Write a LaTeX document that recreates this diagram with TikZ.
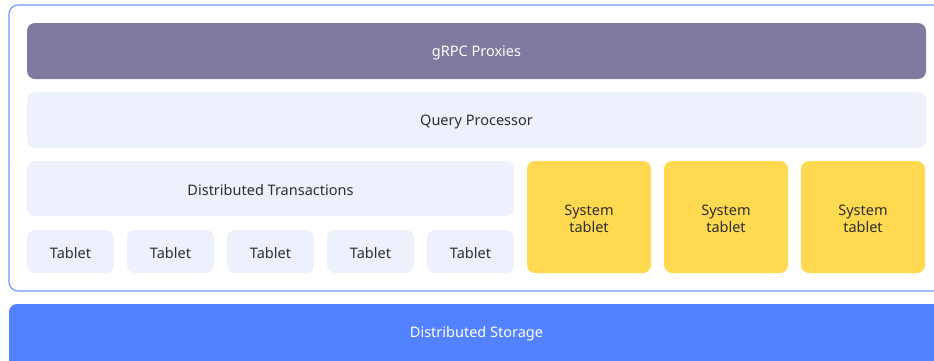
\documentclass[tikz,border=0pt]{standalone}
\usepackage{fontspec}
\setmainfont{Noto Sans}
\definecolor{frameblue}{HTML}{6F93FF}
\definecolor{grpc}{HTML}{7F7AA0}
\definecolor{pale}{HTML}{EDF1FC}
\definecolor{sysyellow}{HTML}{FFD94F}
\definecolor{storage}{HTML}{5282FF}
\definecolor{txt}{HTML}{2E2E2E}
\begin{document}
\begin{tikzpicture}[x=1pt,y=-1pt,
  box/.style={rounded corners=8pt, inner sep=0pt, font=\fontsize{14.5}{17}\selectfont, text=txt},
  palebox/.style={box, fill=pale},
  sysbox/.style={box, fill=sysyellow, align=center},
]
\useasboundingbox (0,0) rectangle (934,360);
\clip (0,0) rectangle (934,360);
\fill[white] (0,0) rectangle (934,360);
% outer frame
\draw[frameblue, line width=1.1pt, rounded corners=9pt] (9,5) rectangle (960,291);
% rows
\filldraw[box, fill=grpc, draw=none] (27,23) rectangle (926,79);
\node[box, text=white] (grpc) at (476.5,53) {gRPC Proxies};
\fill[palebox] (27,92) rectangle (926,148);
\node[box] (qp) at (476.5,122) {Query Processor};
\fill[palebox] (27,161) rectangle (514,216);
\node[box] (dt) at (270.5,190.5) {Distributed Transactions};
\foreach \i in {0,...,4}{
  \fill[palebox] ({27+100*\i},230) rectangle ({114+100*\i},273);
  \node[box] (t\i) at ({70.5+100*\i},253.5) {Tablet};
}
\foreach \i in {0,1,2}{
  \fill[box, fill=sysyellow] ({527+137*\i},161) rectangle ({651+137*\i},273);
  \node[sysbox] (s\i) at ({589+137*\i},219) {System\\tablet};
}
\fill[box, fill=storage] (9,304) rectangle (960,380);
\node[box, text=white] (ds) at (476.5,334) {Distributed Storage};
\end{tikzpicture}
\end{document}
